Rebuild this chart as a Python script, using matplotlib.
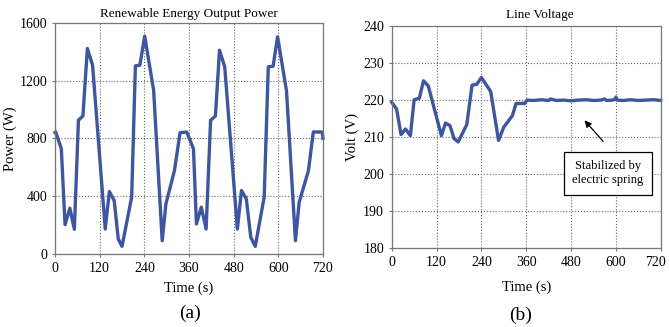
import numpy as np
import matplotlib.pyplot as plt
import matplotlib.transforms as mtransforms

plt.rcParams['font.family'] = ['Liberation Serif', 'DejaVu Serif']

# (a) renewable energy output power
power_t = [0, 2, 17, 27, 40, 52, 63, 75, 87, 101, 135, 146, 159, 170, 180, 206, 216, 228,
           241, 265, 288, 298, 321, 336, 354, 372, 380, 393, 406, 418, 431, 442, 456, 490,
           501, 514, 526, 538, 562, 573, 586, 598, 622, 646, 656, 681, 694, 718, 720]
power_w = [840, 844, 728, 203, 317, 171, 925, 955, 1422, 1306, 173, 432, 370, 104, 53, 393,
           1302, 1306, 1507, 1133, 92, 347, 578, 839, 844, 728, 208, 324, 173, 925, 955, 1410,
           1295, 173, 439, 381, 116, 53, 393, 1295, 1299, 1503, 1128, 92, 358, 578, 844, 844, 800]

# (b) line voltage
volt_t = [0, 13, 25, 37, 50, 60, 74, 85, 98, 133, 144, 156, 167, 178, 201, 215, 228, 240,
          265, 286, 300, 323, 333, 356, 362, 380, 400, 420, 425, 440, 460, 480, 500, 520,
          540, 560, 570, 575, 590, 598, 600, 603, 620, 640, 660, 680, 700, 720]
volt_v = [219.4, 217.6, 210.7, 212.2, 210.4, 220.1, 220.5, 225.2, 223.8, 210.4, 213.8, 213.1,
          209.6, 208.7, 213.4, 224.0, 224.3, 226.1, 222.3, 209.1, 212.7, 215.8, 219.1, 219.1,
          220.0, 219.9, 220.1, 219.9, 220.3, 219.9, 220.0, 219.8, 220.0, 220.1, 219.9, 220.0,
          220.3, 219.9, 220.0, 220.2, 220.8, 220.0, 219.9, 220.1, 219.9, 220.0, 220.1, 219.9]

xticks = [0, 120, 240, 360, 480, 600, 720]
blue = '#3b55a7'

fig = plt.figure(figsize=(6.69, 3.27), dpi=100)
ax1 = fig.add_axes([0.0822, 0.2232, 0.4006, 0.7073])
ax2 = fig.add_axes([0.5855, 0.2407, 0.4021, 0.6798])


def style_axes(ax):
    ax.set_xlim(0, 720)
    ax.set_xticks(xticks)
    ax.grid(True, color='#666666', linestyle=':', linewidth=0.8)
    for s in ax.spines.values():
        s.set_color('#777777')
        s.set_linewidth(0.9)
    ax.tick_params(length=2, labelsize=10, color='#777777')
    ax.set_axisbelow(True)


ax1.plot(power_t, power_w, color=blue, lw=2.4, solid_joinstyle='round', clip_on=False)
style_axes(ax1)
ax1.set_ylim(0, 1600)
ax1.set_yticks([0, 400, 800, 1200, 1600])
ax1.set_title('Renewable Energy Output Power', fontsize=9.5, pad=4)
ax1.set_xlabel('Time (s)', fontsize=10.5, labelpad=5)
ax1.set_ylabel('Power (W)', fontsize=10.5, labelpad=2)

ax2.plot(volt_t, volt_v, color=blue, lw=2.4, solid_joinstyle='round', clip_on=False)
style_axes(ax2)
ax2.set_ylim(180, 240)
ax2.set_yticks([180, 190, 200, 210, 220, 230, 240])
ax2.set_title('Line Voltage', fontsize=9.5, pad=6, x=0.55)
ax2.set_xlabel('Time (s)', fontsize=10.5, labelpad=8)
ax2.set_ylabel('Volt (V)', fontsize=10.5, labelpad=3)

# last tick label sits a bit inside the figure edge
last = ax2.get_xticklabels()[-1]
last.set_transform(last.get_transform() +
                   mtransforms.ScaledTranslation(-5 / 100, 0, fig.dpi_scale_trans))

ax2.annotate('', xy=(511, 215.1), xytext=(571, 208.3),
             arrowprops=dict(arrowstyle='-|>', color='black', lw=0.9, mutation_scale=10))
ax2.text(579, 200.3, 'Stabilized by\nelectric spring', ha='center', va='center', fontsize=9,
         linespacing=1.3,
         bbox=dict(boxstyle='square,pad=0.65', fc='white', ec='black', lw=0.9))

fig.text(0.284, 0.043, '(a)', ha='center', va='center', fontsize=14)
fig.text(0.778, 0.037, '(b)', ha='center', va='center', fontsize=14)

fig.savefig('out.png', dpi=100)
